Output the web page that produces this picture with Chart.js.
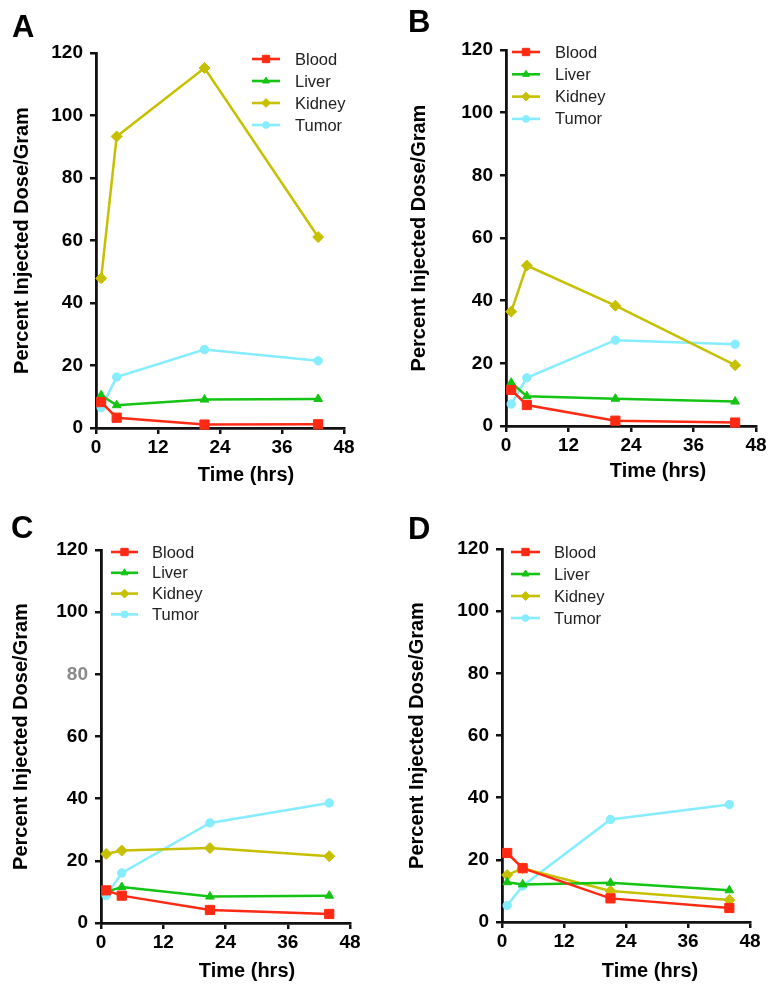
<!DOCTYPE html>
<html>
<head>
<meta charset="utf-8">
<script src="https://cdn.jsdelivr.net/npm/chart.js@4.4.1/dist/chart.umd.min.js"></script>
<style>
  html, body { margin: 0; padding: 0; background: #fff; }
  #wrap { position: relative; width: 774px; height: 992px; }
  .panel { position: absolute; width: 387px; height: 496px; }
  .letter { position: absolute; font: bold 31px Arial, 'Liberation Sans', sans-serif; line-height: 1; color: #000; }
</style>
</head>
<body>
<div id="wrap"></div>
<script>
// --- data ---
const organs = ['Blood', 'Liver', 'Kidney', 'Tumor'];
const xTicks = [0, 12, 24, 36, 48];
const yTicks = [0, 20, 40, 60, 80, 100, 120];

const hoursA = [1, 4, 21, 43];
const hoursB = [1, 4, 21, 44];
const hoursC = [1, 4, 21, 44];
const hoursD = [1, 4, 21, 44];

const bloodA = [8.3, 3.3, 1.1, 1.2];
const liverA = [10.5, 7.3, 9.1, 9.3];
const kidneyA = [47.9, 93.3, 115.2, 61.1];
const tumorA = [6.5, 16.3, 25.1, 21.5];

const bloodB = [11.5, 6.7, 1.7, 1.1];
const liverB = [13.8, 9.5, 8.7, 7.8];
const kidneyB = [36.5, 51.2, 38.4, 19.4];
const tumorB = [7.0, 15.4, 27.4, 26.1];

const bloodC = [10.5, 8.8, 4.2, 2.9];
const liverC = [10.0, 11.6, 8.5, 8.8];
const kidneyC = [22.2, 23.3, 24.1, 21.5];
const tumorC = [8.8, 16.1, 32.2, 38.6];

const bloodD = [22.2, 17.3, 7.6, 4.5];
const liverD = [12.8, 12.1, 12.6, 10.2];
const kidneyD = [15.1, 17.3, 10.0, 7.1];
const tumorD = [5.3, 11.6, 33.0, 37.8];

// --- styling ---
const FONT = "Arial, 'Liberation Sans', sans-serif";
const colors = ['#ff2a14', '#14c414', '#c6c000', '#86ecff'];
const pointStyles = ['rect', 'triangle', 'rectRot', 'circle'];
const pointRadii = [6.5, 5, 5.5, 4.2];

const panels = [
  { letter: 'A', left: 0, top: 0, lx: 12, ly: 11, hours: hoursA, series: [bloodA, liverA, kidneyA, tumorA],
    area: { left: 96, top: 53, right: 344, bottom: 428 }, titleCenter: 22,
    legend: { x1: 252, x2: 280, tx: 295, y: 59, step: 22 }, xTitle: { x: 246, y: 475 } },
  { letter: 'B', left: 387, top: 0, lx: 408, ly: 6, hours: hoursB, series: [bloodB, liverB, kidneyB, tumorB],
    area: { left: 119, top: 50, right: 369, bottom: 426 }, titleCenter: 32,
    legend: { x1: 125, x2: 153, tx: 168, y: 52, step: 22.3 }, xTitle: { x: 271, y: 471 } },
  { letter: 'C', left: 0, top: 496, lx: 11, ly: 512, hours: hoursC, series: [bloodC, liverC, kidneyC, tumorC],
    area: { left: 101, top: 54, right: 350, bottom: 427 }, titleCenter: 21, grey80: true,
    legend: { x1: 111, x2: 138, tx: 152, y: 56, step: 20.8 }, xTitle: { x: 247, y: 475 } },
  { letter: 'D', left: 387, top: 496, lx: 408, ly: 513, hours: hoursD, series: [bloodD, liverD, kidneyD, tumorD],
    area: { left: 115, top: 53, right: 363, bottom: 426 }, titleCenter: 30,
    legend: { x1: 124, x2: 153, tx: 167, y: 56, step: 22 }, xTitle: { x: 263, y: 475 } }
];

// legend + x axis title drawn on the canvas
const panelText = {
  id: 'panelText',
  afterDraw(chart, args, opts) {
    const ctx = chart.ctx;
    const lg = opts.legend;
    ctx.save();
    chart.data.datasets.forEach((ds, i) => {
      const y = lg.y + i * lg.step;
      ctx.strokeStyle = ds.borderColor;
      ctx.lineWidth = 2.6;
      ctx.beginPath();
      ctx.moveTo(lg.x1, y);
      ctx.lineTo(lg.x2, y);
      ctx.stroke();
      ctx.fillStyle = ds.backgroundColor;
      ctx.lineWidth = 1;
      Chart.helpers.drawPoint(ctx, {
        pointStyle: ds.pointStyle, radius: ds.pointRadius * 0.8, rotation: 0, borderWidth: 1
      }, (lg.x1 + lg.x2) / 2, y);
      ctx.fillStyle = '#222';
      ctx.font = '16.5px ' + FONT;
      ctx.textAlign = 'left';
      ctx.textBaseline = 'middle';
      ctx.fillText(ds.label, lg.tx, y + 1);
    });
    ctx.fillStyle = '#000';
    ctx.font = 'bold 20px ' + FONT;
    ctx.textAlign = 'center';
    ctx.textBaseline = 'middle';
    ctx.fillText('Time (hrs)', opts.xTitle.x, opts.xTitle.y);
    ctx.restore();
  }
};

const wrap = document.getElementById('wrap');

panels.forEach(p => {
  const box = document.createElement('div');
  box.className = 'panel';
  box.style.left = p.left + 'px';
  box.style.top = p.top + 'px';
  const canvas = document.createElement('canvas');
  canvas.width = 387;
  canvas.height = 496;
  box.appendChild(canvas);
  wrap.appendChild(box);

  const letter = document.createElement('div');
  letter.className = 'letter';
  letter.textContent = p.letter;
  letter.style.left = p.lx + 'px';
  letter.style.top = p.ly + 'px';
  wrap.appendChild(letter);

  const padLeft = p.titleCenter - 12;

  new Chart(canvas, {
    type: 'line',
    data: {
      datasets: organs.map((name, i) => ({
        label: name,
        data: p.hours.map((h, j) => ({ x: h, y: p.series[i][j] })),
        borderColor: colors[i],
        backgroundColor: colors[i],
        pointStyle: pointStyles[i],
        pointRadius: pointRadii[i],
        pointBorderWidth: 1,
        borderWidth: 2.5,
        tension: 0
      }))
    },
    options: {
      responsive: false,
      animation: false,
      events: [],
      clip: false,
      layout: { padding: { left: padLeft, top: p.area.top, right: 387 - p.area.right, bottom: 0 } },
      plugins: {
        legend: { display: false },
        tooltip: { enabled: false },
        panelText: { legend: p.legend, xTitle: p.xTitle }
      },
      scales: {
        x: {
          type: 'linear',
          min: 0,
          max: 48,
          afterBuildTicks: s => { s.ticks = xTicks.map(v => ({ value: v })); },
          afterFit: s => { s.height = 496 - p.area.bottom; },
          grid: { drawOnChartArea: false, drawTicks: true, tickLength: 6, color: '#111', lineWidth: 2.5 },
          border: { color: '#111', width: 2.8 },
          ticks: { color: '#000', padding: 2, maxRotation: 0, font: { family: FONT, size: 19, weight: 'bold' } }
        },
        y: {
          min: 0,
          max: 120,
          afterBuildTicks: s => { s.ticks = yTicks.map(v => ({ value: v })); },
          afterFit: s => { s.width = p.area.left - padLeft; },
          grid: { drawOnChartArea: false, drawTicks: true, tickLength: 6, color: '#111', lineWidth: 2.5 },
          border: { color: '#111', width: 2.8 },
          ticks: {
            padding: 7,
            font: { family: FONT, size: 19, weight: 'bold' },
            color: c => (p.grey80 && c.tick && c.tick.value === 80) ? '#8a8a8a' : '#000'
          },
          title: {
            display: true,
            text: 'Percent Injected Dose/Gram',
            color: '#000',
            padding: 0,
            font: { family: FONT, size: 20, weight: 'bold' }
          }
        }
      }
    },
    plugins: [panelText]
  });
});
</script>
</body>
</html>
